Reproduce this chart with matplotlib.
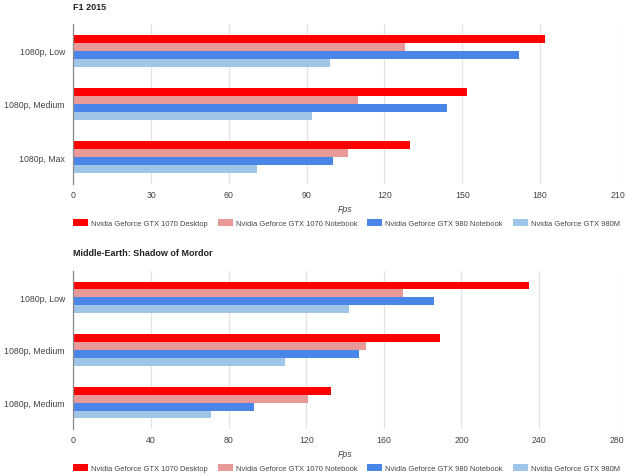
import numpy as np
import matplotlib
matplotlib.use('Agg')
import matplotlib.pyplot as plt

plt.rcParams['font.family'] = ['Liberation Sans', 'DejaVu Sans']

# data
series = ['Nvidia Geforce GTX 1070 Desktop',
          'Nvidia Geforce GTX 1070 Notebook',
          'Nvidia Geforce GTX 980 Notebook',
          'Nvidia Geforce GTX 980M']
colors = ['#ff0000', '#ea9999', '#4a86e8', '#9fc5e8']

f1_title = 'F1 2015'
f1_cats = ['1080p, Low', '1080p, Medium', '1080p, Max']
f1_desktop_1070 = [182, 152, 130]
f1_notebook_1070 = [128, 110, 106]
f1_notebook_980 = [172, 144, 100]
f1_980m = [99, 92, 71]
f1_ticks = [0, 30, 60, 90, 120, 150, 180, 210]

som_title = 'Middle-Earth: Shadow of Mordor'
som_cats = ['1080p, Low', '1080p, Medium', '1080p, Medium']
som_desktop_1070 = [235, 189, 133]
som_notebook_1070 = [170, 151, 121]
som_notebook_980 = [186, 147, 93]
som_980m = [142, 109, 71]
som_ticks = [0, 40, 80, 120, 160, 200, 240, 280]

W, H = 640, 477
fig = plt.figure(figsize=(W / 100, H / 100), dpi=100)


def px(x0, y0, x1, y1):
    # pixel box -> figure fraction rect
    return [x0 / W, 1 - y1 / H, (x1 - x0) / W, (y1 - y0) / H]


def draw(rect, title, title_y, cats, vals, ticks, fps_y, leg_y):
    ax = fig.add_axes(rect)
    y = np.arange(len(cats))
    bh = 0.15
    offs = [-1.5 * bh, -0.5 * bh, 0.5 * bh, 1.5 * bh]
    for v, c, o, name in zip(vals, colors, offs, series):
        ax.barh(y + o, v, height=bh, color=c, label=name, zorder=3)
    ax.set_xlim(ticks[0], ticks[-1])
    ax.set_ylim(len(cats) - 0.5, -0.5)
    ax.set_xticks(ticks)
    ax.set_yticks(y)
    ax.set_yticklabels(cats)
    ax.tick_params(length=0, labelsize=6.3, colors='#444444')
    ax.tick_params(axis='x', pad=4.5)
    ax.tick_params(axis='y', pad=6)
    ax.grid(axis='x', color='#e3e3e3', linewidth=0.9, zorder=0)
    for s in ['top', 'right', 'bottom']:
        ax.spines[s].set_visible(False)
    ax.spines['left'].set_color('#8a8a8a')
    ax.spines['left'].set_linewidth(0.9)
    ax.spines['left'].set_zorder(4)

    fig.text(73 / W, 1 - title_y / H, title, fontsize=6.5, fontweight='bold',
             color='#222222', va='center', ha='left')
    fig.text(345.5 / W, 1 - fps_y / H, 'Fps', fontsize=6.3, style='italic',
             color='#444444', va='center', ha='center')
    ax.legend(loc='center left', bbox_to_anchor=(66 / W, 1 - leg_y / H),
              bbox_transform=fig.transFigure, ncol=4, frameon=False,
              fontsize=5.4, handlelength=2.0, handleheight=1.1,
              handletextpad=0.4, columnspacing=1.35, labelcolor='#444444')
    return ax


draw(px(73.3, 25, 617.7, 185), f1_title, 8, f1_cats,
     [f1_desktop_1070, f1_notebook_1070, f1_notebook_980, f1_980m],
     f1_ticks, 210, 224)
draw(px(73.3, 272, 616.7, 430), som_title, 254, som_cats,
     [som_desktop_1070, som_notebook_1070, som_notebook_980, som_980m],
     som_ticks, 455, 469)

fig.savefig('out.png', dpi=100)
